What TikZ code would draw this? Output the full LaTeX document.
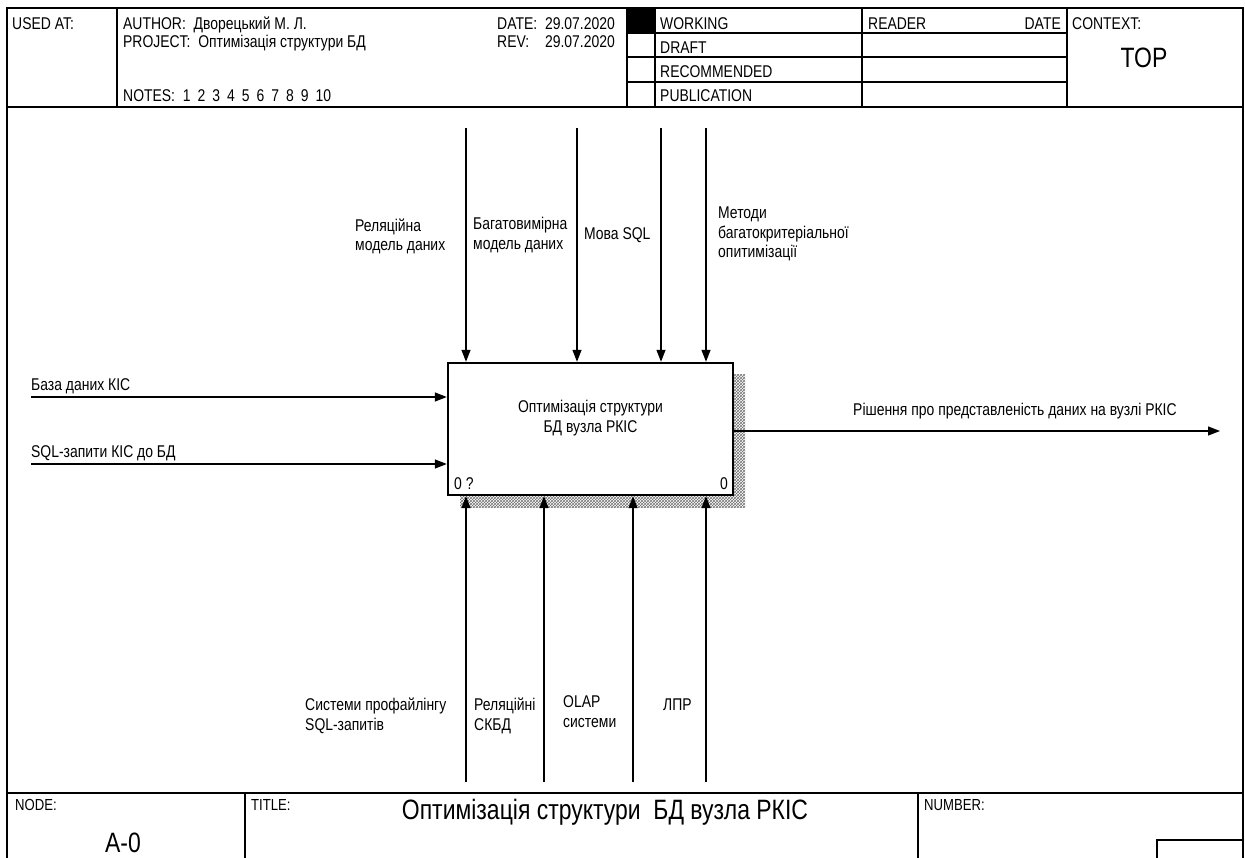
\documentclass[tikz,border=0pt]{standalone}
\usepackage{fontspec}
\setmainfont{Liberation Sans}[FakeStretch=0.82]
\usetikzlibrary{arrows.meta,patterns}

\newcommand\ngap{\hspace{7pt}}

\begin{document}
\begin{tikzpicture}[x=1pt,y=-1pt,
  frameline/.style={line width=2pt},
  gridline/.style={line width=1.4pt},
  hdr/.style={inner sep=0pt, font=\fontsize{17}{19.5}\selectfont},
  ftr/.style={inner sep=0pt, font=\fontsize{16}{19}\selectfont},
  big/.style={inner sep=0pt, font=\fontsize{28}{32}\selectfont},
  lbl/.style={inner sep=0pt, align=left, font=\fontsize{17}{19.5}\selectfont},
  flow/.style={line width=1.3pt, -{Triangle[length=12pt,width=9pt]}},
  funcbox/.style={draw, line width=2.4pt, fill=white, minimum width=285pt,
    minimum height=132pt, inner sep=0pt},
  shadowpat/.style={pattern=crosshatch, pattern color=black!55}
]
\useasboundingbox (0,0) rectangle (1245,858);
\fill[white] (0,0) rectangle (1245,858);

% ---------- outer frame ----------
\draw[frameline] (7,858) -- (7,8) -- (1243,8) -- (1243,858);
\draw[gridline] (7,107) -- (1243,107);
\draw[gridline] (7,793) -- (1243,793);

% ---------- header grid ----------
\draw[gridline] (117,8) -- (117,107);
\draw[gridline] (627,8) -- (627,107);
\fill[black] (627,8) rectangle (655,33);
\draw[gridline] (655,8) -- (655,107);
\draw[gridline] (862,8) -- (862,107);
\draw[gridline] (1067,8) -- (1067,107);
\foreach \yy in {33,57,82} \draw[gridline] (627,\yy) -- (1067,\yy);

% ---------- header texts ----------
\node[hdr, anchor=base west] (usedat) at (12,30) {USED AT:};
\node[hdr, anchor=base west] (author) at (123,30) {AUTHOR:\ \ Дворецький М. Л.};
\node[hdr, anchor=base west] (project) at (123,48) {PROJECT:\ \ Оптимізація структури БД};
\node[hdr, anchor=base west] (notes) at (123,102)
  {NOTES:\ \ 1\ngap 2\ngap 3\ngap 4\ngap 5\ngap 6\ngap 7\ngap 8\ngap 9\ngap 10};
\node[hdr, anchor=base west] (datelbl) at (497,30) {DATE:};
\node[hdr, anchor=base east] (dateval) at (615,30) {29.07.2020};
\node[hdr, anchor=base west] (revlbl) at (497,48) {REV:};
\node[hdr, anchor=base east] (revval) at (615,48) {29.07.2020};
\node[hdr, anchor=base west] (working) at (660,30) {WORKING};
\node[hdr, anchor=base west] (draft) at (660,54) {DRAFT};
\node[hdr, anchor=base west] (recommended) at (660,78) {RECOMMENDED};
\node[hdr, anchor=base west] (publication) at (660,102) {PUBLICATION};
\node[hdr, anchor=base west] (reader) at (868,30) {READER};
\node[hdr, anchor=base east] (readerdate) at (1061,30) {DATE};
\node[hdr, anchor=base west] (context) at (1072,30) {CONTEXT:};
\node[big, anchor=base] (top) at (1144,68) {TOP};

% ---------- activity box ----------
\fill[shadowpat] (460,375) rectangle (745,507);
\node[funcbox] (fn) at (590.5,429) {};
\node[lbl, align=center, anchor=base] (fntext) at (590.5,432)
  {Оптимізація структури\\БД вузла РКІС};
\node[lbl, anchor=base west] (fnnum) at (454,489) {0 ?};
\node[lbl, anchor=base east] (fncost) at (728,489) {0};

% ---------- controls (top) ----------
\foreach \xx/\nm in {466/c1,577/c2,661/c3,706/c4}{
  \coordinate (\nm) at (\xx,128);
  \draw[flow] (\nm) -- (\nm |- fn.north);
}
\node[lbl, anchor=base west] (c1lbl) at (355,251) {Реляційна\\модель даних};
\node[lbl, anchor=base west] (c2lbl) at (473,249.5) {Багатовимірна\\модель даних};
\node[lbl, anchor=base west] (c3lbl) at (584,240) {Мова SQL};
\node[lbl, anchor=base west] (c4lbl) at (718,258) {Методи\\багатокритеріальної\\опитимізації};

% ---------- inputs (left) ----------
\coordinate (i1) at (31,397);
\coordinate (i2) at (31,464);
\draw[flow] (i1) -- (i1 -| fn.west);
\draw[flow] (i2) -- (i2 -| fn.west);
\node[lbl, anchor=base west] (i1lbl) at (31,391) {База даних КІС};
\node[lbl, anchor=base west] (i2lbl) at (31,457) {SQL-запити КІС до БД};

% ---------- output (right) ----------
\coordinate (o1) at (1220,431);
\draw[flow] (fn.east |- o1) -- (o1);
\node[lbl, anchor=base west] (o1lbl) at (853,415) {Рішення про представленість даних на вузлі РКІС};

% ---------- mechanisms (bottom) ----------
\foreach \xx/\nm in {466/m1,544/m2,633/m3,706/m4}{
  \coordinate (\nm) at (\xx,782);
  \draw[flow] (\nm) -- (\nm |- fn.south);
}
\node[lbl, anchor=base west] (m1lbl) at (305,730) {Системи профайлінгу\\SQL-запитів};
\node[lbl, anchor=base west] (m2lbl) at (474,730) {Реляційні\\СКБД};
\node[lbl, anchor=base west] (m3lbl) at (563,727) {OLAP\\системи};
\node[lbl, anchor=base west] (m4lbl) at (663,710.5) {ЛПР};

% ---------- footer ----------
\draw[gridline] (245,793) -- (245,858);
\draw[gridline] (918,793) -- (918,858);
\draw[frameline] (1157,858) -- (1157,840) -- (1243,840);
\node[ftr, anchor=base west] (nodelbl) at (15,810) {NODE:};
\node[ftr, anchor=base west] (titlelbl) at (251,810) {TITLE:};
\node[ftr, anchor=base west] (numberlbl) at (924,810) {NUMBER:};
\node[big, anchor=base] (nodeval) at (123,852) {A-0};
\node[big, anchor=base] (titleval) at (605,819) {Оптимізація структури\ \ БД вузла РКІС};
\end{tikzpicture}
\end{document}
